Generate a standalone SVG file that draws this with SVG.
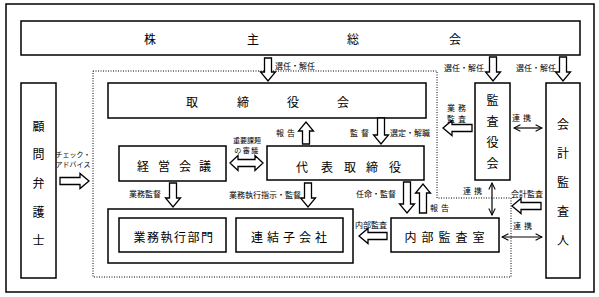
<svg xmlns="http://www.w3.org/2000/svg" width="599" height="297" viewBox="0 0 599 297">
<defs>
<marker id="chev" viewBox="0 0 10 10" refX="9" refY="5" markerUnits="userSpaceOnUse" markerWidth="8" markerHeight="10" orient="auto-start-reverse">
<path d="M1,1 L9,5 L1,9" fill="none" stroke="#000" stroke-width="1.3"/>
</marker>
</defs>
<style>
.box{fill:#fff;stroke:#000;stroke-width:1.5}
.dot{fill:none;stroke:#000;stroke-width:1;stroke-dasharray:1 1.5}
.ha{fill:#fff;stroke:#000;stroke-width:1.3;stroke-linejoin:miter}
.ln{fill:none;stroke:#000;stroke-width:1.2;marker-start:url(#chev);marker-end:url(#chev)}
text{font-family:"Noto Sans CJK JP","Noto Sans CJK SC",sans-serif;fill:#000;text-anchor:middle;dominant-baseline:central}
.t{font-size:12px}
.s{font-size:8px}
.xs{font-size:7px}
</style>
<rect x="0" y="0" width="599" height="297" fill="#fff"/>
<rect x="6" y="4" width="588" height="288" fill="none" stroke="#000" stroke-width="1.5"/>
<path class="dot" d="M93,71 H437 V198 H511 V277 H93 Z"/>

<g id="kabunushi">
<rect class="box" x="21" y="21" width="559" height="34"/>
<text class="t" x="150" y="38">株</text><text class="t" x="253" y="38">主</text><text class="t" x="353" y="38">総</text><text class="t" x="455" y="38">会</text>
</g>
<g id="torishimariyakukai">
<rect class="box" x="108" y="83" width="318" height="35"/>
<text class="t" x="192" y="101">取</text><text class="t" x="243" y="101">締</text><text class="t" x="293" y="101">役</text><text class="t" x="343" y="101">会</text>
</g>
<g id="komon">
<rect class="box" x="21" y="83" width="35" height="195"/>
<text class="t" x="38.5" y="125">顧</text><text class="t" x="38.5" y="153">問</text><text class="t" x="38.5" y="182">弁</text><text class="t" x="38.5" y="211">護</text><text class="t" x="38.5" y="239">士</text>
</g>
<g id="keiei">
<rect class="box" x="119" y="146" width="107" height="35"/>
<text class="t" x="143" y="165">経</text><text class="t" x="164" y="165">営</text><text class="t" x="185" y="165">会</text><text class="t" x="205" y="165">議</text>
</g>
<g id="daihyo">
<rect class="box" x="267" y="146" width="157" height="34"/>
<text class="t" x="302" y="166">代</text><text class="t" x="327" y="166">表</text><text class="t" x="350" y="166">取</text><text class="t" x="372" y="166">締</text><text class="t" x="395" y="166">役</text>
</g>
<g id="outer-exec">
<rect class="box" x="108" y="209" width="245" height="54"/>
</g>
<g id="gyomu">
<rect class="box" x="119" y="218" width="107" height="34"/>
<text class="t" x="174" y="236" letter-spacing="1.5">業務執行部門</text>
</g>
<g id="renketsu">
<rect class="box" x="236" y="218" width="107" height="34"/>
<text class="t" x="291" y="236" letter-spacing="4">連結子会社</text>
</g>
<g id="naibu">
<rect class="box" x="391" y="218" width="108" height="34"/>
<text class="t" x="447" y="236" letter-spacing="5">内部監査室</text>
</g>
<g id="kansayakukai">
<rect class="box" x="475" y="83" width="35" height="97"/>
<text class="t" x="492.5" y="99">監</text><text class="t" x="492.5" y="120">査</text><text class="t" x="492.5" y="141">役</text><text class="t" x="492.5" y="162">会</text>
</g>
<g id="kaikei">
<rect class="box" x="546" y="83" width="34" height="195"/>
<text class="t" x="563" y="123">会</text><text class="t" x="563" y="152">計</text><text class="t" x="563" y="181">監</text><text class="t" x="563" y="210">査</text><text class="t" x="563" y="239">人</text>
</g>

<g id="connectors">
<path class="ha" d="M264.5,58 H271.5 V72 H275.5 L268,81 L260.5,72 H264.5 Z"/>
<path class="ha" d="M489.5,57 H496.5 V72 H500.5 L493,81 L485.5,72 H489.5 Z"/>
<path class="ha" d="M559.5,57 H566.5 V72 H570.5 L563,81 L555.5,72 H559.5 Z"/>
<path class="ha" d="M377.5,118 H384.5 V135 H388.5 L381,144 L373.5,135 H377.5 Z"/>
<path class="ha" d="M169.5,183 H176.5 V198 H180.5 L173,207 L165.5,198 H169.5 Z"/>
<path class="ha" d="M304.5,183 H311.5 V198 H315.5 L308,207 L300.5,198 H304.5 Z"/>
<path class="ha" d="M403.5,182 H410.5 V204 H414.5 L407,213 L399.5,204 H403.5 Z"/>
<path class="ha" d="M302.5,144 H309.5 V131 H313.5 L306,122 L298.5,131 H302.5 Z"/>
<path class="ha" d="M419.5,213 H426.5 V193 H430.5 L423,184 L415.5,193 H419.5 Z"/>
<path class="ha" d="M472,124.5 V131.5 H452 V135.5 L443,128 L452,120.5 V124.5 Z"/>
<path class="ha" d="M387,232.5 V239.5 H368 V243.5 L359,236 L368,228.5 V232.5 Z"/>
<path class="ha" d="M541,202.5 V209.5 H521 V213.5 L512,206 L521,198.5 V202.5 Z"/>
<path class="ha" d="M60,177.5 V184.5 H80 V188.5 L89,181 L80,173.5 V177.5 Z"/>
<path class="ha" d="M230,163 L238,155.5 V159.5 H255 V155.5 L263,163 L255,170.5 V166.5 H238 V170.5 Z"/>
<line class="ln" x1="514" y1="128" x2="542" y2="128"/>
<line class="ln" x1="492" y1="183" x2="492" y2="215"/>
<line class="ln" x1="502" y1="237" x2="542" y2="237"/>
</g>

<g id="labels">
<text class="s" x="295" y="65">選任・解任</text>
<text class="s" x="464" y="67">選任・解任</text>
<text class="s" x="536" y="67">選任・解任</text>
<text class="s" x="458" y="107" letter-spacing="3">業務</text>
<text class="s" x="458" y="118" letter-spacing="3">監査</text>
<text class="s" x="523" y="117" letter-spacing="3">連携</text>
<text class="s" x="287" y="132" letter-spacing="3">報告</text>
<text class="s" x="361" y="132" letter-spacing="3">監督</text>
<text class="s" x="410" y="132">選定・解職</text>
<text class="xs" x="247" y="140">重要課題</text>
<text class="xs" x="247" y="150" letter-spacing="1.5">の審議</text>
<text class="xs" x="73" y="154">チェック・</text>
<text class="xs" x="73" y="164">アドバイス</text>
<text class="s" x="145" y="193">業務監督</text>
<text class="s" x="265" y="194">業務執行指示・監督</text>
<text class="s" x="376" y="193">任命・監督</text>
<text class="s" x="441" y="207" letter-spacing="3">報告</text>
<text class="s" x="371" y="224">内部監査</text>
<text class="s" x="474" y="190" letter-spacing="3">連携</text>
<text class="s" x="527" y="193">会計監査</text>
<text class="s" x="524" y="225" letter-spacing="3">連携</text>
</g>
</svg>
